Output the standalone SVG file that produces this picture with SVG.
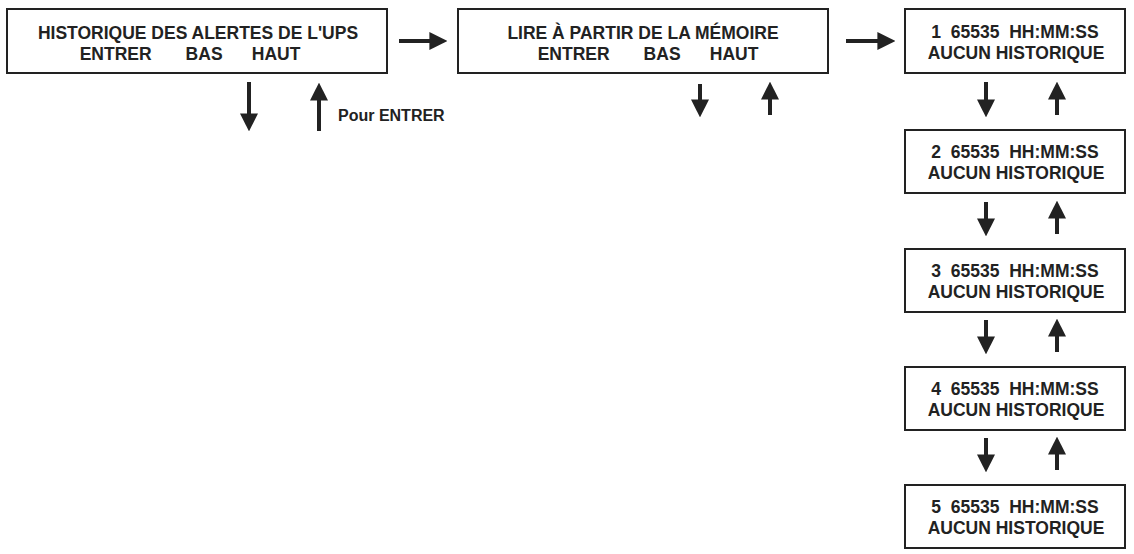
<svg xmlns="http://www.w3.org/2000/svg" width="1134" height="554" viewBox="0 0 1134 554">
<defs>
<style>
.box{fill:#fff;stroke:#222;stroke-width:2}
text{font-family:"Liberation Sans",Arial,sans-serif;font-weight:bold;font-size:17.5px;fill:#222;text-anchor:middle}
.l{text-anchor:start}
.c line{stroke:#222;stroke-width:4}
</style>
<marker id="ah" viewBox="0 0 10 10" refX="2" refY="5" markerWidth="4.5" markerHeight="4.5" orient="auto"><path d="M0,0L10,5L0,10z" fill="#222"/></marker>
</defs>
<rect width="1134" height="554" fill="#fff"/>
<g id="n1"><rect class="box" x="7" y="9" width="380" height="64"/><text x="198" y="39">HISTORIQUE DES ALERTES DE L'UPS</text><text x="190" y="60" xml:space="preserve">ENTRER       BAS      HAUT</text></g>
<g id="n2"><rect class="box" x="458" y="9" width="370" height="64"/><text x="643" y="39">LIRE À PARTIR DE LA MÉMOIRE</text><text x="648" y="60" xml:space="preserve">ENTRER       BAS      HAUT</text></g>
<g id="r1"><rect class="box" x="905" y="9" width="220" height="64"/><text x="1015" y="38" xml:space="preserve">1  65535  HH:MM:SS</text><text x="1016" y="59">AUCUN HISTORIQUE</text></g>
<g id="r2"><rect class="box" x="905" y="130" width="220" height="63"/><text x="1015" y="158" xml:space="preserve">2  65535  HH:MM:SS</text><text x="1016" y="179">AUCUN HISTORIQUE</text></g>
<g id="r3"><rect class="box" x="905" y="249" width="220" height="63"/><text x="1015" y="277" xml:space="preserve">3  65535  HH:MM:SS</text><text x="1016" y="298">AUCUN HISTORIQUE</text></g>
<g id="r4"><rect class="box" x="905" y="367" width="220" height="63"/><text x="1015" y="395" xml:space="preserve">4  65535  HH:MM:SS</text><text x="1016" y="416">AUCUN HISTORIQUE</text></g>
<g id="r5"><rect class="box" x="905" y="485" width="220" height="63"/><text x="1015" y="513" xml:space="preserve">5  65535  HH:MM:SS</text><text x="1016" y="534">AUCUN HISTORIQUE</text></g>
<text class="l" x="338" y="121" style="font-size:16px">Pour ENTRER</text>
<g class="c">
<line x1="399" y1="41" x2="433" y2="41" marker-end="url(#ah)"/>
<line x1="846" y1="41" x2="881" y2="41" marker-end="url(#ah)"/>
<line x1="249" y1="82" x2="249" y2="117" marker-end="url(#ah)"/>
<line x1="319" y1="131" x2="319" y2="97" marker-end="url(#ah)"/>
<line x1="700" y1="84" x2="700" y2="103" marker-end="url(#ah)"/>
<line x1="770" y1="115" x2="770" y2="96" marker-end="url(#ah)"/>
<line x1="986" y1="82" x2="986" y2="103" marker-end="url(#ah)"/>
<line x1="1057" y1="115" x2="1057" y2="96" marker-end="url(#ah)"/>
<line x1="986" y1="202" x2="986" y2="222" marker-end="url(#ah)"/>
<line x1="1057" y1="234" x2="1057" y2="215" marker-end="url(#ah)"/>
<line x1="986" y1="320" x2="986" y2="340" marker-end="url(#ah)"/>
<line x1="1057" y1="352" x2="1057" y2="333" marker-end="url(#ah)"/>
<line x1="986" y1="438" x2="986" y2="458" marker-end="url(#ah)"/>
<line x1="1057" y1="470" x2="1057" y2="451" marker-end="url(#ah)"/>
</g>
</svg>
